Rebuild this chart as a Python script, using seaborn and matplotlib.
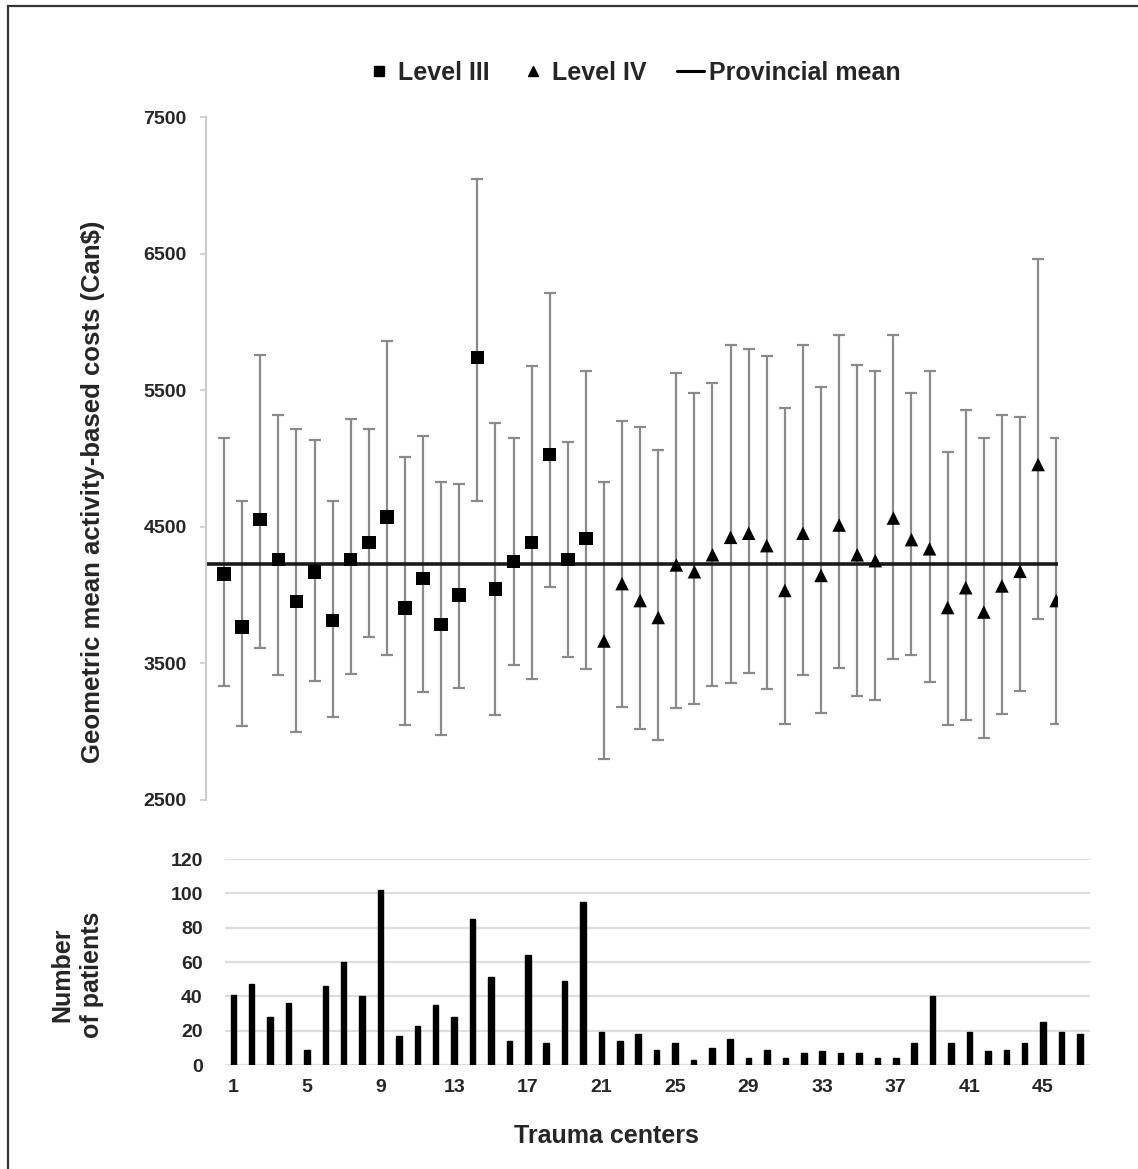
import numpy as np
import pandas as pd
import matplotlib
matplotlib.use("Agg")
import matplotlib.pyplot as plt
import seaborn as sns
from matplotlib.lines import Line2D
from matplotlib.patches import Rectangle

# ---------------- data ----------------
level3_centers = list(range(1, 22))
level3_mean = [4154, 3768, 4554, 4262, 3953, 4171, 3815, 4262, 4386, 4570, 3906,
               4121, 3785, 4000, 5738, 4044, 4245, 4386, 5030, 4262, 4413]
level3_upper = [5151, 4688, 5755, 5319, 5215, 5134, 4688, 5292, 5215, 5862, 5013,
                5164, 4829, 4815, 7044, 5258, 5151, 5678, 6215, 5121, 5644]
level3_lower = [3336, 3040, 3614, 3413, 3000, 3369, 3104, 3426, 3691, 3564, 3047,
                3289, 2973, 3322, 4691, 3121, 3490, 3386, 4060, 3550, 3456]

level4_centers = list(range(22, 48))
level4_mean = [3664, 4084, 3960, 3836, 4221, 4171, 4295, 4423, 4453, 4362, 4034, 4453, 4144,
               4513, 4295, 4252, 4564, 4406, 4339, 3909, 4054, 3876, 4067, 4174, 4956, 3960]
level4_upper = [4829, 5275, 5228, 5060, 5628, 5477, 5550, 5829, 5799, 5752, 5369, 5829, 5520,
                5906, 5688, 5644, 5906, 5477, 5644, 5044, 5352, 5151, 5319, 5302, 6460, 5151]
level4_lower = [2799, 3181, 3020, 2940, 3174, 3205, 3336, 3359, 3430, 3309, 3060, 3416, 3138,
                3463, 3262, 3235, 3530, 3564, 3366, 3047, 3087, 2953, 3128, 3295, 3826, 3060]

provincial_mean = 4225

centers = list(range(1, 48))
patients = [41, 47, 28, 36, 9, 46, 60, 40, 102, 17, 23, 35, 28, 85, 51, 14, 64, 13, 49, 95,
            19, 14, 18, 9, 13, 3, 10, 15, 4, 9, 4, 7, 8, 7, 7, 4, 4, 13, 40, 13,
            19, 8, 9, 13, 25, 19, 18]

cost_ticks = [2500, 3500, 4500, 5500, 6500, 7500]
patient_ticks = [0, 20, 40, 60, 80, 100, 120]
center_ticks = [1, 5, 9, 13, 17, 21, 25, 29, 33, 37, 41, 45]

# ---------------- style ----------------
sns.set_style("white")
plt.rcParams['font.family'] = ['Liberation Sans', 'DejaVu Sans']
plt.rcParams['font.weight'] = 'bold'

W, H = 1138, 1169
fig = plt.figure(figsize=(W / 100, H / 100), dpi=100)

# ---------------- top panel ----------------
top_left, top_right = 206, 1058
ax1 = fig.add_axes([top_left / W, 1 - 800 / H, (top_right - top_left) / W, (800 - 117) / H])

df3 = pd.DataFrame({"center": level3_centers, "mean": level3_mean,
                    "lo": level3_lower, "hi": level3_upper})
df4 = pd.DataFrame({"center": level4_centers, "mean": level4_mean,
                    "lo": level4_lower, "hi": level4_upper})

for d in (df3, df4):
    ax1.errorbar(d["center"], d["mean"],
                 yerr=[d["mean"] - d["lo"], d["hi"] - d["mean"]],
                 fmt="none", ecolor="#8a8a8a", elinewidth=1.6, capsize=4.5,
                 capthick=1.6, zorder=1)

ax1.axhline(provincial_mean, color="#1a1a1a", lw=2.6, zorder=2)

sns.scatterplot(data=df3, x="center", y="mean", marker="s", s=95, color="black",
                edgecolor="none", ax=ax1, zorder=3, legend=False)
sns.scatterplot(data=df4, x="center", y="mean", marker="^", s=95, color="black",
                edgecolor="none", ax=ax1, zorder=3, legend=False)

ax1.set_xlim(0, 47.1)
ax1.set_ylim(2500, 7500)
ax1.set_yticks(cost_ticks)
ax1.set_yticklabels([str(t) for t in cost_ticks], fontsize=14, fontweight="bold")
ax1.set_xticks([])
ax1.set_xlabel("")
ax1.set_ylabel("")
for s in ("top", "right", "bottom"):
    ax1.spines[s].set_visible(False)
ax1.spines["left"].set_color("#cccccc")
ax1.spines["left"].set_linewidth(1.5)
ax1.tick_params(axis="y", length=4, width=1.2, color="#cccccc", pad=10, left=True)

# ---------------- bottom panel ----------------
bl, br = 225, 1090
ax2 = fig.add_axes([bl / W, 1 - 1065 / H, (br - bl) / W, (1065 - 859) / H])
dfp = pd.DataFrame({"center": centers, "patients": patients})
sns.barplot(data=dfp, x="center", y="patients", native_scale=True, width=0.3,
            color="black", ax=ax2, zorder=3)
for p in ax2.patches:
    p.set_facecolor("black")
    p.set_edgecolor("black")
ax2.set_xlim(0.55, 47.55)
ax2.set_ylim(0, 120)
ax2.set_yticks(patient_ticks)
ax2.set_yticklabels([str(t) for t in patient_ticks], fontsize=14, fontweight="bold")
ax2.set_xticks(center_ticks)
ax2.set_xticklabels([str(t) for t in center_ticks], fontsize=14, fontweight="bold")
ax2.set_xlabel("")
ax2.set_ylabel("")
for s in ax2.spines.values():
    s.set_visible(False)
ax2.yaxis.grid(True, color="#dddddd", lw=1.6, zorder=0)
ax2.xaxis.grid(False)
ax2.set_axisbelow(True)
ax2.tick_params(axis="y", length=0, pad=16)
ax2.tick_params(axis="x", length=0, pad=10)

# ---------------- labels ----------------
fig.text(93 / W, 1 - 492 / H, "Geometric mean activity-based costs (Can$)",
         rotation=90, ha="center", va="center", fontsize=18.5, fontweight="bold")
fig.text(77 / W, 1 - 975 / H, "Number\nof patients", rotation=90, ha="center",
         va="center", multialignment="center", fontsize=18, fontweight="bold",
         linespacing=1.3)
fig.text(606 / W, 1 - 1136 / H, "Trauma centers", ha="center", va="center",
         fontsize=18, fontweight="bold")

# ---------------- legend ----------------
handles = [
    Line2D([], [], marker="s", color="black", linestyle="none", markersize=7),
    Line2D([], [], marker="^", color="black", linestyle="none", markersize=7),
    Line2D([], [], color="black", lw=2.2),
]
fig.legend(handles, ["Level III", "Level IV", "Provincial mean"], loc="center",
           bbox_to_anchor=(633 / W, 1 - 73 / H), ncol=3, frameon=False,
           prop={"size": 18, "weight": "bold"}, handlelength=1.1,
           handletextpad=0.2, columnspacing=1.2)

# ---------------- frame ----------------
fig.patches.append(Rectangle((8 / W, -0.05), 1.2, 1 - 6 / H + 0.05,
                             transform=fig.transFigure, fill=False,
                             edgecolor="#333333", lw=1.6, clip_on=False))

fig.savefig("out.png", dpi=100)
